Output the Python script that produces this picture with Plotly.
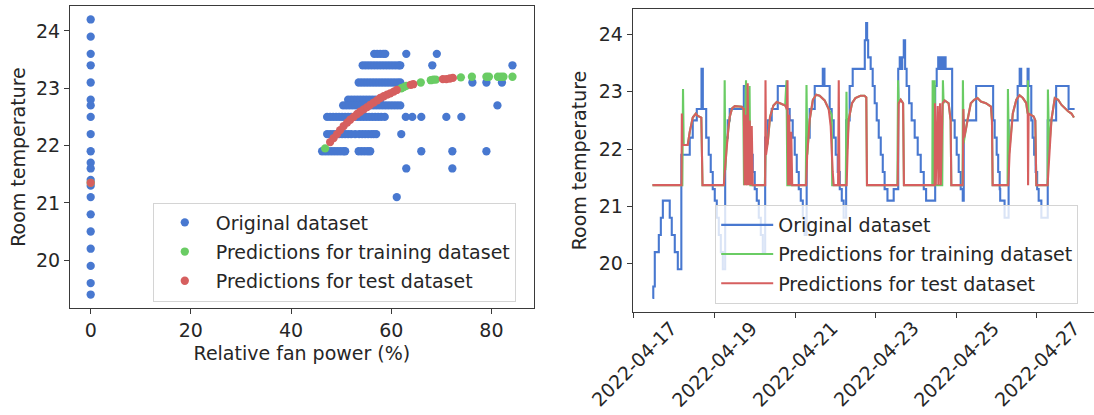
import pandas as pd
import plotly.graph_objects as go

# ---------------- left panel: room temperature vs relative fan power ----------------
# measured temperature levels (°C) and the fan power values (%) observed at each level
orig_levels = [24.2, 23.9, 23.6, 23.4, 23.1, 22.8, 22.7, 22.5, 22.2, 21.9,
               21.7, 21.6, 21.4, 21.3, 21.1, 20.8, 20.5, 20.2, 19.9, 19.6, 19.4]
orig_fan_by_level = [
    [0],
    [0],
    [0, 56.6, 57.2, 57.8, 58.4, 58.8, 63.0, 69.1],
    [0, 54.3, 54.9, 55.5, 56.1, 56.7, 57.3, 57.9, 58.5, 59.1, 59.7, 60.3, 60.9,
     61.5, 61.8, 68.2, 84.2],
    [0, 53.5, 54.1, 54.7, 55.3, 55.9, 56.5, 57.1, 57.7, 58.3, 58.9, 59.5, 60.1,
     60.7, 61.3, 61.8, 76.2, 79.0, 82.1],
    [0, 51.4, 52.0, 52.6, 53.2, 53.8, 54.4, 55.0, 55.6, 56.2, 56.8, 57.4, 57.8],
    [0, 50.4, 51.0, 51.6, 52.2, 52.8, 53.4, 54.0, 54.6, 55.2, 55.8, 56.4, 57.0,
     57.6, 58.2, 58.8, 59.4, 60.0, 60.6, 61.2, 61.8, 81.2],
    [0, 47.2, 47.8, 48.4, 49.0, 49.6, 50.2, 50.8, 51.4, 52.0, 52.6, 53.2, 53.8,
     54.4, 55.0, 55.6, 56.2, 56.8, 57.4, 58.0, 58.7, 62.9, 64.2, 66.0, 71.0, 74.0],
    [0, 47.2, 47.8, 48.4, 49.0, 49.6, 50.2, 50.8, 51.4, 52.0, 52.8, 53.6, 54.2,
     54.8, 55.4, 56.0, 56.5, 57.0, 62.0],
    [0, 46.2, 46.8, 47.4, 48.0, 48.6, 49.2, 49.8, 50.4, 50.8, 53.5, 54.1, 54.7,
     55.3, 55.8, 66.0, 72.2, 79.0],
    [0],
    [0, 63.0, 72.2],
    [0],
    [0],
    [0, 61.1],
    [0],
    [0],
    [0],
    [0],
    [0],
    [0],
]

# model predictions on the training rows
train_fan = [0, 46.8, 62.0, 62.5, 63.0, 65.9, 67.9, 68.4, 68.9, 73.9, 76.1,
             79.0, 79.5, 81.3, 81.9, 82.4, 84.2]
train_pred = [21.35, 21.95, 23.00, 23.02, 23.04, 23.10, 23.14, 23.15, 23.15,
              23.19, 23.20, 23.20, 23.20, 23.20, 23.20, 23.20, 23.20]

# model predictions on the test rows
test_fan = [0, 47.8, 48.5, 49.2, 49.8, 50.5, 51.2, 51.8, 52.5, 53.2, 53.8, 54.5,
            55.2, 55.8, 56.5, 57.2, 57.8, 58.5, 59.2, 59.8, 60.5, 61.1,
            63.9, 64.4, 70.3, 71.0, 71.7, 72.3]
test_pred = [21.35, 22.06, 22.13, 22.20, 22.27, 22.34, 22.40, 22.45, 22.50, 22.55,
             22.59, 22.63, 22.67, 22.71, 22.75, 22.79, 22.83, 22.86, 22.89, 22.91,
             22.94, 22.97, 23.06, 23.07, 23.16, 23.16, 23.17, 23.18]

# ---------------- right panel: time series ----------------
start = pd.Timestamp("2022-04-17 00:00")

# measured room temperature, hours after start (stepwise readings)
orig_hours = [11.1, 11.6, 12.5, 14.9, 16.1, 17.3, 21.4, 22.6, 24.4, 26.2,
              28.3, 33.3, 35.1, 37.5, 40.3, 41.1, 43.1, 44.6, 45.8, 47.0,
              48.2, 49.4, 50.6, 51.8, 53.0, 54.4, 55.9, 57.1, 65.5, 67.2,
              68.4, 69.6, 70.8, 72.0, 73.2, 74.4, 75.6, 76.8, 78.2, 79.7,
              82.1, 85.7, 91.1, 92.8, 94.6, 95.8, 97.0, 98.2, 99.4, 100.6,
              101.7, 102.9, 104.7, 107.7, 112.5, 113.5, 116.6, 117.8, 119.0, 120.2,
              121.4, 122.6, 123.8, 124.9, 126.4, 128.5, 130.3, 137.5, 138.3, 138.9,
              139.5, 141.0, 142.2, 143.4, 144.6, 145.8, 147.0, 148.2, 149.3, 151.0,
              154.7, 157.4, 158.3, 159.2, 159.8, 160.7, 161.5, 162.4, 163.9, 165.4,
              167.2, 169.0, 170.8, 172.6, 174.0, 179.4, 180.3, 181.2, 182.1, 183.0,
              183.8, 184.7, 185.6, 189.5, 191.0, 192.2, 193.4, 194.6, 195.8, 196.4,
              203.8, 213.9, 214.8, 216.0, 216.9, 217.8, 218.1, 220.7, 223.1, 228.5,
              229.7, 230.6, 234.4, 235.0, 236.6, 237.4, 238.3, 239.2, 240.1, 241.0,
              242.6, 246.4, 251.4, 258.8, 262.4]
orig_temp = [19.4, 19.6, 20.2, 20.5, 20.8, 21.1, 20.8, 20.5, 20.2, 19.9,
             21.9, 22.2, 22.5, 22.7, 23.4, 22.7, 22.2, 21.9, 21.6, 21.3,
             21.1, 20.8, 20.5, 20.2, 19.9, 22.2, 22.5, 22.7, 23.1, 22.5,
             22.2, 21.9, 21.6, 21.3, 21.1, 20.8, 20.5, 20.2, 22.2, 22.5,
             22.7, 23.1, 22.7, 22.5, 22.2, 21.9, 21.6, 21.3, 21.1, 20.8,
             20.5, 22.2, 22.7, 23.1, 23.4, 23.1, 22.7, 22.5, 22.2, 21.9,
             21.6, 21.3, 21.1, 20.8, 22.5, 23.1, 23.4, 23.9, 24.2, 23.9,
             23.6, 23.4, 23.1, 22.8, 22.5, 22.2, 21.9, 21.6, 21.3, 21.1,
             21.3, 23.4, 23.6, 23.4, 23.6, 23.9, 23.4, 23.1, 22.8, 22.5,
             22.2, 21.9, 21.6, 21.3, 21.1, 23.1, 23.4, 23.6, 23.4, 23.6,
             23.4, 23.6, 23.4, 22.5, 22.2, 21.9, 21.6, 21.3, 21.1, 22.5,
             23.1, 22.5, 22.2, 21.9, 21.6, 21.3, 21.1, 20.8, 22.5, 23.1,
             23.4, 23.1, 23.4, 23.1, 22.5, 22.2, 21.9, 21.6, 21.3, 21.1,
             20.8, 22.5, 23.1, 22.7, 22.7]

# predictions for the training rows, hours after start
train_hours = [11.1, 28.9, 29.3, 29.7, 32.1, 33.3, 35.1, 36.9, 38.1, 40.2,
               40.9, 53.7, 54.1, 54.5, 55.2, 56.2, 57.1, 58.5, 60.1, 64.3,
               65.2, 65.6, 66.8, 67.3, 68.9, 69.4, 78.0, 78.5, 79.7, 81.1,
               83.1, 85.1, 87.1, 90.1, 90.9, 91.4, 102.4, 102.8, 103.3, 104.7,
               106.6, 108.6, 110.6, 113.6, 116.0, 117.8, 118.1, 126.2, 126.6, 127.0,
               127.9, 129.9, 131.9, 134.9, 137.3, 138.4, 138.8, 156.9, 157.3, 157.7,
               158.9, 160.3, 160.8, 177.7, 177.9, 178.3, 178.9, 179.1, 179.5, 183.6,
               184.0, 184.4, 185.0, 187.4, 188.6, 189.0, 195.7, 195.9, 196.3, 196.8,
               197.6, 198.6, 200.6, 202.6, 204.6, 206.6, 209.6, 212.6, 213.2, 213.6,
               222.5, 222.7, 223.3, 224.7, 225.6, 227.7, 229.6, 231.6, 233.6, 234.4,
               234.6, 235.0, 236.0, 238.0, 239.0, 239.6, 246.3, 246.5, 247.2, 248.6,
               250.6, 252.6, 254.6, 256.5, 258.5, 260.5, 262.0]
train_values = [21.37, 21.37, 23.05, 22.07, 22.07, 22.30, 22.55, 22.62, 22.58, 22.55,
                21.37, 21.37, 23.20, 21.63, 22.04, 22.33, 22.56, 22.71, 22.75, 22.74,
                22.70, 21.37, 23.20, 21.37, 23.10, 21.37, 21.37, 22.00, 22.10, 22.56,
                22.76, 22.82, 22.80, 22.76, 23.20, 21.37, 21.37, 23.12, 21.90, 22.51,
                22.86, 22.95, 22.93, 22.85, 22.70, 22.60, 21.37, 21.37, 23.00, 22.00,
                22.51, 22.80, 22.89, 22.93, 22.93, 22.90, 21.37, 21.37, 23.20, 22.80,
                22.86, 22.80, 21.37, 21.37, 23.20, 21.37, 21.37, 23.20, 21.37, 21.37,
                23.20, 22.80, 22.85, 22.80, 22.50, 21.37, 21.37, 23.20, 22.10, 22.20,
                22.33, 22.51, 22.80, 22.86, 22.89, 22.83, 22.80, 22.74, 22.50, 21.37,
                21.37, 23.05, 21.90, 22.33, 22.62, 22.86, 22.94, 22.89, 22.80, 22.62,
                23.20, 22.62, 22.60, 22.57, 22.50, 21.37, 21.37, 23.04, 22.00, 22.51,
                22.89, 22.86, 22.77, 22.71, 22.66, 22.62, 22.55]

# predictions for the test rows, hours after start
test_hours = [11.1, 28.4, 28.6, 28.9, 32.1, 33.3, 35.1, 36.9, 38.1, 40.2,
              40.9, 53.6, 54.2, 55.2, 56.2, 57.1, 58.5, 60.1, 64.3, 65.2,
              65.5, 66.0, 66.6, 67.2, 67.8, 68.4, 69.0, 69.6, 70.2, 70.8,
              78.2, 78.4, 78.7, 79.7, 81.1, 83.1, 85.1, 87.1, 90.1, 91.1,
              91.5, 91.9, 92.5, 93.1, 93.7, 94.3, 102.6, 103.2, 104.7, 106.6,
              108.6, 110.6, 113.6, 116.0, 117.2, 118.4, 119.0, 121.6, 122.0, 122.4,
              126.7, 127.3, 127.9, 129.9, 131.9, 134.9, 137.3, 138.4, 138.8, 157.1,
              157.7, 158.9, 159.7, 160.3, 160.8, 179.1, 179.3, 179.7, 180.9, 181.3,
              182.3, 182.7, 183.8, 185.0, 187.4, 188.6, 189.0, 195.8, 196.2, 196.6,
              197.6, 198.6, 200.6, 202.6, 204.6, 206.6, 209.6, 212.6, 213.2, 213.6,
              222.9, 223.7, 224.7, 225.6, 227.7, 229.6, 231.6, 233.6, 234.5, 234.7,
              235.0, 236.0, 238.0, 239.0, 239.6, 246.3, 247.5, 248.6, 250.6, 252.6,
              254.6, 256.5, 258.5, 260.5, 262.0]
test_values = [21.37, 21.37, 22.62, 22.07, 22.07, 22.30, 22.55, 22.62, 22.58, 22.55,
               21.37, 21.37, 21.63, 22.04, 22.33, 22.56, 22.71, 22.75, 22.74, 22.70,
               22.70, 21.37, 22.60, 21.37, 23.15, 21.37, 22.50, 21.37, 22.40, 21.37,
               21.37, 23.20, 21.90, 22.10, 22.56, 22.76, 22.82, 22.80, 22.76, 22.70,
               23.20, 21.37, 22.60, 21.37, 22.30, 21.37, 21.37, 21.90, 22.51, 22.86,
               22.95, 22.93, 22.85, 22.70, 22.40, 21.60, 21.37, 21.37, 23.20, 21.37,
               21.37, 22.00, 22.51, 22.80, 22.89, 22.93, 22.93, 22.90, 21.37, 21.37,
               22.80, 22.86, 22.83, 22.80, 21.37, 21.37, 22.80, 21.37, 22.75, 21.37,
               22.80, 21.37, 22.80, 22.85, 22.80, 22.50, 21.37, 21.37, 22.70, 22.20,
               22.33, 22.51, 22.80, 22.86, 22.89, 22.83, 22.80, 22.74, 22.50, 21.37,
               21.37, 21.93, 22.33, 22.62, 22.86, 22.94, 22.89, 22.80, 22.62, 21.37,
               22.62, 22.60, 22.57, 22.50, 21.37, 21.37, 22.04, 22.51, 22.89, 22.86,
               22.77, 22.71, 22.66, 22.62, 22.55]

date_ticks = ["2022-04-17", "2022-04-19", "2022-04-21", "2022-04-23", "2022-04-25", "2022-04-27"]

# ---------------- styling ----------------
BLUE, GREEN, RED = "#4878d0", "#6acc64", "#d65f5f"
INK = "#262626"
FRAME = "#3a3a3a"
FONT = "DejaVu Sans"
FS = 19

W, H = 1094, 415


def hours_to_time(hours):
    return start + pd.to_timedelta(hours, unit="h")


orig_fan = [f for row in orig_fan_by_level for f in row]
orig_temp_pts = [lvl for lvl, row in zip(orig_levels, orig_fan_by_level) for _ in row]

fig = go.Figure()

fig.add_trace(go.Scatter(
    x=orig_fan, y=orig_temp_pts, mode="markers", name="Original dataset",
    marker=dict(size=8.3, color=BLUE, line=dict(width=0)),
    xaxis="x", yaxis="y", legend="legend", legendgroup="l1"))
fig.add_trace(go.Scatter(
    x=train_fan, y=train_pred, mode="markers", name="Predictions for training dataset",
    marker=dict(size=8.3, color=GREEN, line=dict(width=0)),
    xaxis="x", yaxis="y", legend="legend", legendgroup="l2"))
fig.add_trace(go.Scatter(
    x=test_fan, y=test_pred, mode="markers", name="Predictions for test dataset",
    marker=dict(size=8.3, color=RED, line=dict(width=0)),
    xaxis="x", yaxis="y", legend="legend", legendgroup="l3"))

fig.add_trace(go.Scatter(
    x=hours_to_time(orig_hours), y=orig_temp, mode="lines", name="Original dataset",
    line=dict(color=BLUE, width=2.1, shape="hv"),
    xaxis="x2", yaxis="y2", legend="legend2", legendgroup="r1"))
fig.add_trace(go.Scatter(
    x=hours_to_time(train_hours), y=train_values, mode="lines",
    name="Predictions for training dataset",
    line=dict(color=GREEN, width=2.1),
    xaxis="x2", yaxis="y2", legend="legend2", legendgroup="r2"))
fig.add_trace(go.Scatter(
    x=hours_to_time(test_hours), y=test_values, mode="lines",
    name="Predictions for test dataset",
    line=dict(color=RED, width=2.1),
    xaxis="x2", yaxis="y2", legend="legend2", legendgroup="r3"))

axis_common = dict(
    showgrid=False, zeroline=False, showline=True, linecolor=FRAME, linewidth=1.1,
    ticks="outside", ticklen=5, tickwidth=1.1, tickcolor=FRAME, automargin=False,
    tickfont=dict(family=FONT, size=FS, color=INK),
)

legend_common = dict(
    xanchor="left", yanchor="top",
    bgcolor="rgba(255,255,255,0.8)", bordercolor="#d4d4d4", borderwidth=1,
    font=dict(family=FONT, size=FS, color=INK),
    tracegroupgap=1.5, itemsizing="trace", itemwidth=52,
)

fig.update_layout(
    width=W, height=H, margin=dict(l=0, r=0, t=0, b=0, autoexpand=False),
    paper_bgcolor="white", plot_bgcolor="white",
    font=dict(family=FONT, size=FS, color=INK),
    showlegend=True,
    xaxis=dict(**axis_common, domain=[70 / W, 533.8 / W], range=[-4.13, 88.46],
               tickvals=[0, 20, 40, 60, 80], mirror=True,
               title=dict(text="Relative fan power (%)", standoff=6,
                          font=dict(family=FONT, size=FS, color=INK))),
    yaxis=dict(**axis_common, domain=[1 - 308.3 / H, 1 - 5.7 / H], range=[19.16, 24.44],
               tickvals=[20, 21, 22, 23, 24], mirror=True, anchor="x",
               title=dict(text="Room temperature", standoff=5,
                          font=dict(family=FONT, size=FS, color=INK))),
    xaxis2=dict(**axis_common, domain=[632.7 / W, 1.0],
                range=["2022-04-16 23:21", "2022-04-28 09:56"],
                tickvals=date_ticks, showticklabels=False,
                mirror=True, anchor="y2"),
    yaxis2=dict(**axis_common, domain=[1 - 311.7 / H, 1 - 9.3 / H], range=[19.16, 24.44],
                tickvals=[20, 21, 22, 23, 24], mirror=False, anchor="x2",
                title=dict(text="Room temperature", standoff=7,
                           font=dict(family=FONT, size=FS, color=INK))),
    legend=dict(**legend_common, x=152.8 / W, y=1 - 202.5 / H),
    legend2=dict(**legend_common, x=715.2 / W, y=1 - 205 / H),
)

# date labels rotated about their centre, one under each tick
for d in date_ticks:
    fig.add_annotation(
        x=d, xref="x2", y=1 - 364 / H, yref="paper",
        text=d, textangle=-45, showarrow=False,
        xanchor="center", yanchor="middle",
        font=dict(family=FONT, size=FS, color=INK),
    )

fig.write_html("out.html")
